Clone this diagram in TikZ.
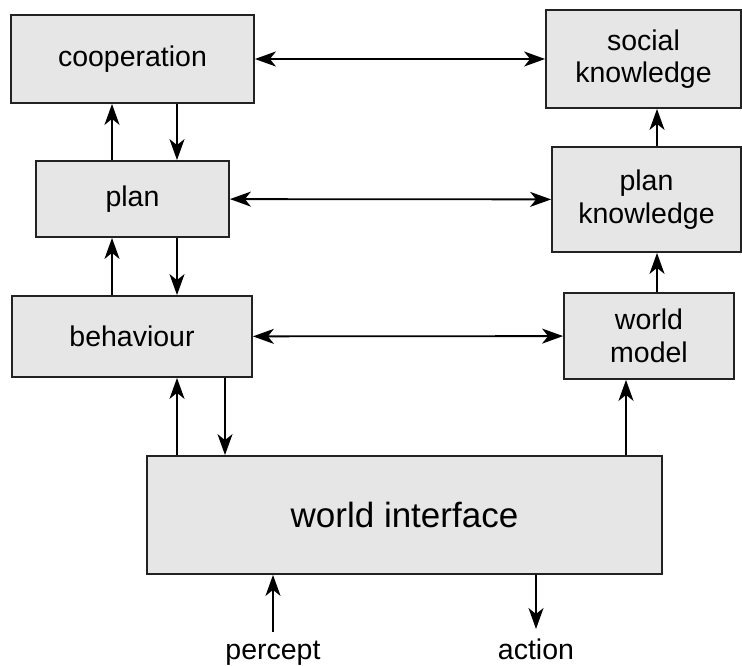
\documentclass[tikz,border=0pt]{standalone}
\usepackage{fontspec}
\setmainfont{Liberation Sans}
\usetikzlibrary{arrows.meta}
\definecolor{boxfill}{HTML}{E6E6E6}
\definecolor{boxline}{HTML}{222222}
\begin{document}
\begin{tikzpicture}[x=1pt,y=-1pt,
  block/.style={draw=boxline, fill=boxfill, line width=1.8pt, rectangle,
    inner sep=0pt, align=center, font=\fontsize{28.5}{32.5}\selectfont},
  lbl/.style={inner sep=0pt, anchor=base, font=\fontsize{28.5}{32.5}\selectfont},
  tip/.style={Stealth[length=21pt,width=15pt,inset=6pt]},
  arr/.style={line width=1.8pt, -{Stealth[length=21pt,width=15pt,inset=6pt]}},
  biarr/.style={line width=1.8pt, {Stealth[length=21pt,width=15pt,inset=6pt]}-{Stealth[length=21pt,width=15pt,inset=6pt]}}]
\useasboundingbox (0,0) rectangle (742,666);

% agent layers (left column)
\node[block, minimum width=243pt, minimum height=88pt] (coop) at (132.5,59) {cooperation};
\node[block, minimum width=193pt, minimum height=76pt] (plan) at (132.5,199) {plan};
\node[block, minimum width=240pt, minimum height=81pt] (beh) at (132,336.5) {behaviour};

% knowledge bases (right column)
\node[block, minimum width=195pt, minimum height=98pt] (sk) at (643.5,59) {social\\knowledge};
\node[block, minimum width=189pt, minimum height=105pt] (pk) at (646.5,199.5) {plan\\knowledge};
\node[block, minimum width=170pt, minimum height=86pt] (wm) at (649,336) {world\\model};

% world interface
\node[block, minimum width=515pt, minimum height=118pt,
  font=\fontsize{35}{40}\selectfont] (wi) at (404.5,515) {world interface};

% percept / action labels
\node[lbl] (percept) at (273,659) {percept};
\node[lbl] (action) at (536,659) {action};

% column positions of the vertical connectors
\coordinate (cA) at (112,0);
\coordinate (cB) at (177,0);
\coordinate (cC) at (225,0);
\coordinate (cD) at (626,0);
\coordinate (cE) at (657,0);
\coordinate (pin) at (273,632);
\coordinate (aout) at (536,629);

% layer <-> knowledge links
\draw[biarr] (coop) -- (sk);
\draw[biarr] (plan) -- (pk);
\draw[biarr] (beh) -- (wm);

% vertical links between layers
\draw[arr] (plan.north -| cA) -- (coop.south -| cA);
\draw[arr] (coop.south -| cB) -- (plan.north -| cB);
\draw[arr] (beh.north -| cA) -- (plan.south -| cA);
\draw[arr] (plan.south -| cB) -- (beh.north -| cB);
\draw[arr] (wi.north -| cB) -- (beh.south -| cB);
\draw[arr] (beh.south -| cC) -- (wi.north -| cC);

% knowledge chain
\draw[arr] (wi.north -| cD) -- (wm.south -| cD);
\draw[arr] (wm.north -| cE) -- (pk.south -| cE);
\draw[arr] (pk.north -| cE) -- (sk.south -| cE);

% percept in, action out
\draw[arr] (pin) -- (wi.south -| pin);
\draw[arr] (wi.south -| aout) -- (aout);
\end{tikzpicture}
\end{document}
